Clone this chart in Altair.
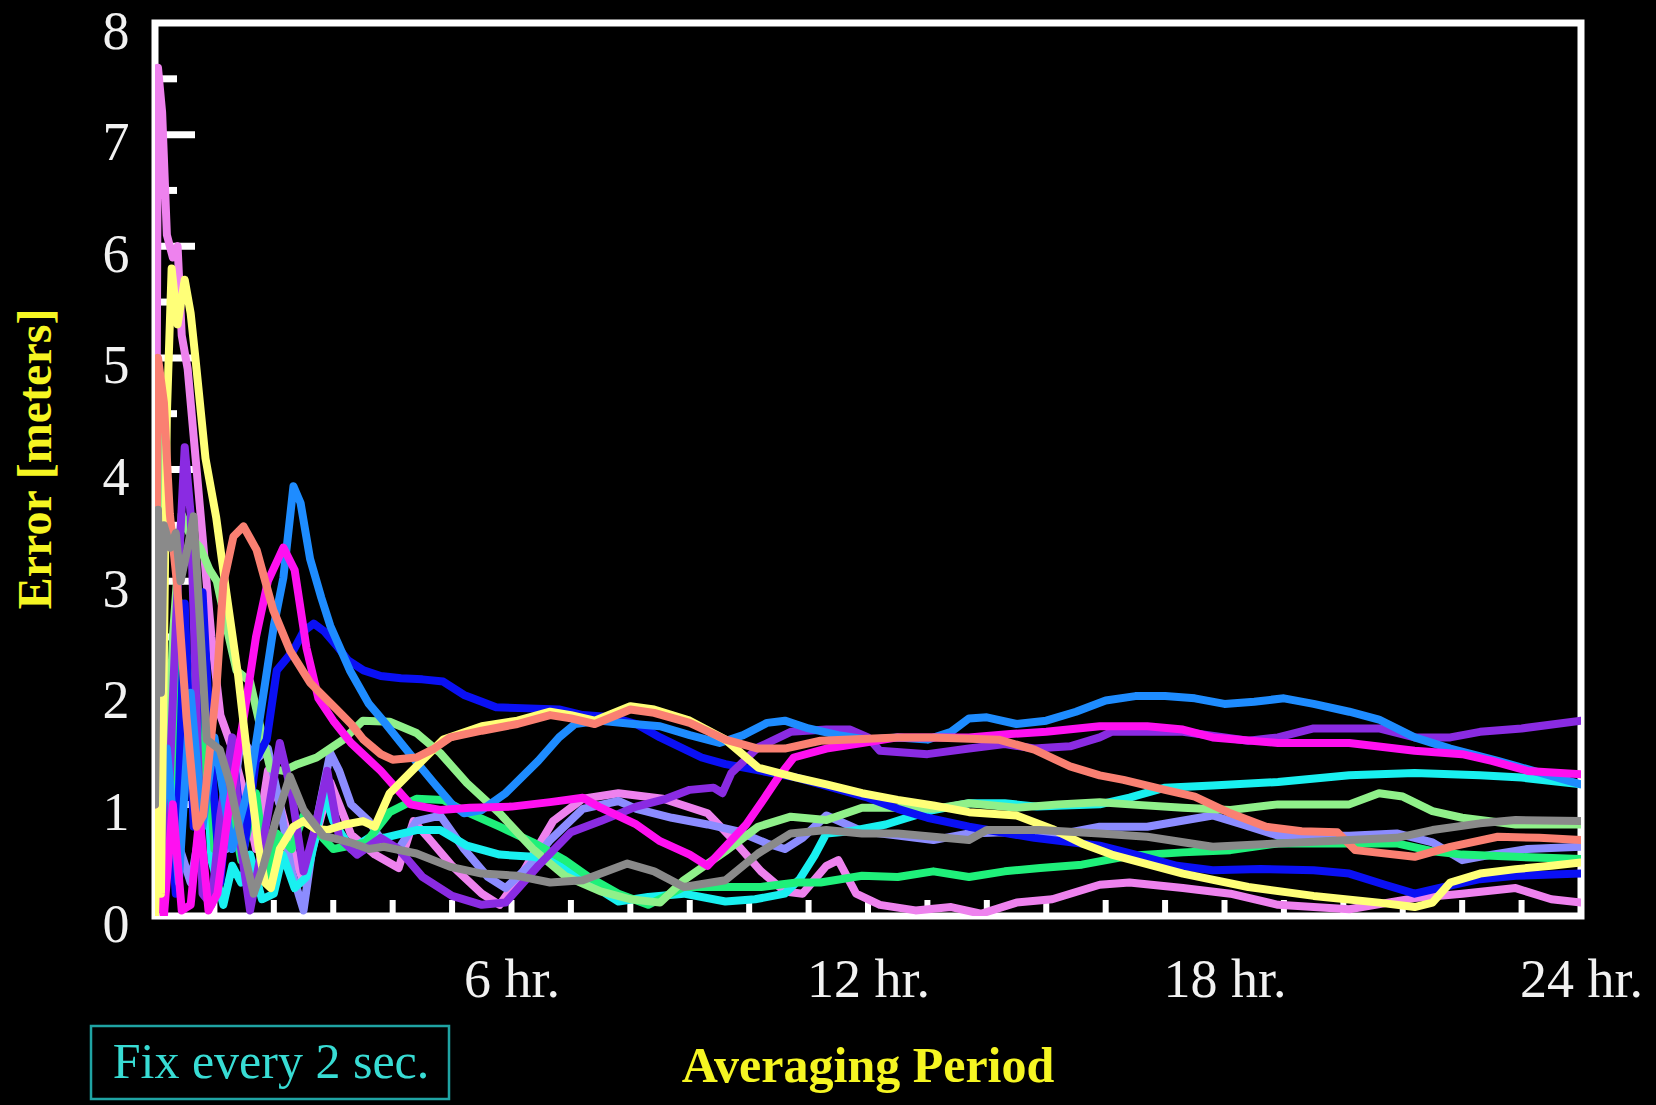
import altair as alt
import pandas as pd

# ---- data: (hour, error in meters) per receiver trace ----
violet = [(0, 1.0), (0.05, 7.6), (0.12, 7.2), (0.2, 6.1), (0.3, 5.9), (0.38, 6.0), (0.45, 5.2), (0.55, 4.9),
          (0.65, 4.3), (0.8, 3.4), (0.95, 2.5), (1.1, 1.8), (1.3, 1.5), (1.5, 1.1), (1.7, 0.6), (1.9, 1.3),
          (2.1, 1.0), (2.3, 0.6), (2.5, 0.3), (2.7, 0.7), (2.95, 1.2), (3.1, 1.0), (3.3, 0.73), (3.7, 0.55),
          (4.1, 0.43), (4.35, 0.85), (4.6, 0.7), (5.0, 0.45), (5.5, 0.2), (5.8, 0.1), (6.2, 0.4), (6.7, 0.85),
          (7.2, 1.05), (7.8, 1.1), (8.55, 1.05), (9.3, 0.92), (9.7, 0.7), (10.2, 0.4), (10.6, 0.22), (10.9, 0.2),
          (11.3, 0.45), (11.5, 0.5), (11.8, 0.2), (12.2, 0.1), (12.8, 0.05), (13.4, 0.08), (13.9, 0.02),
          (14.5, 0.12), (15.1, 0.15), (15.9, 0.28), (16.4, 0.3), (17.3, 0.25), (18.1, 0.2), (18.9, 0.1),
          (20.1, 0.06), (21.2, 0.16), (22.0, 0.2), (22.9, 0.25), (23.5, 0.15), (24, 0.12)]

periwinkle = [(0, 0.3), (0.3, 0.8), (0.6, 0.3), (0.9, 1.2), (1.2, 0.6), (1.45, 1.6), (1.7, 1.4), (1.9, 1.5),
              (2.1, 1.0), (2.3, 0.4), (2.5, 0.05), (2.7, 0.8), (2.95, 1.46), (3.1, 1.3), (3.3, 1.0), (3.6, 0.85),
              (3.85, 0.65), (4.1, 0.6), (4.4, 0.85), (4.8, 0.9), (5.2, 0.6), (5.6, 0.35), (5.9, 0.25), (6.3, 0.45),
              (6.65, 0.68), (7.2, 0.96), (7.8, 1.03), (8.1, 0.96), (8.7, 0.88), (9.3, 0.82), (9.8, 0.76),
              (10.3, 0.65), (10.6, 0.6), (10.9, 0.7), (11.3, 0.9), (11.9, 0.76), (12.5, 0.72), (13.1, 0.68),
              (13.7, 0.74), (14.3, 0.75), (14.9, 0.7), (15.9, 0.8), (16.7, 0.8), (17.8, 0.9), (18.3, 0.82),
              (18.9, 0.72), (20.1, 0.72), (20.9, 0.74), (21.5, 0.66), (22.0, 0.5), (22.5, 0.55), (23.1, 0.6),
              (24, 0.62)]

cyan = [(0, 0.5), (0.15, 1.5), (0.3, 0.8), (0.4, 2.76), (0.5, 2.3), (0.65, 1.0), (0.8, 2.0), (0.95, 0.5),
        (1.15, 0.1), (1.3, 0.45), (1.45, 0.3), (1.6, 0.55), (1.8, 0.15), (2.0, 0.2), (2.15, 0.55), (2.35, 0.25),
        (2.55, 0.35), (2.7, 0.7), (2.85, 1.1), (3.0, 0.85), (3.3, 0.6), (3.6, 0.7), (3.85, 0.7), (4.4, 0.77),
        (4.8, 0.77), (5.25, 0.63), (5.8, 0.55), (6.36, 0.53), (6.65, 0.5), (7.2, 0.33), (7.8, 0.13), (8.3, 0.17),
        (8.9, 0.2), (9.6, 0.13), (10.1, 0.15), (10.6, 0.2), (10.85, 0.33), (11.1, 0.54), (11.3, 0.74),
        (11.7, 0.76), (12.3, 0.82), (12.6, 0.87), (13.1, 0.95), (13.7, 1.01), (14.3, 1.01), (14.85, 0.98),
        (15.9, 1.0), (16.4, 1.06), (17.0, 1.15), (17.8, 1.17), (18.9, 1.2), (20.1, 1.26), (21.2, 1.28),
        (22.3, 1.26), (23.0, 1.24), (24, 1.18)]

springgreen = [(0, 0.2), (0.2, 0.6), (0.3, 1.5), (0.44, 2.8), (0.55, 2.2), (0.7, 1.0), (0.85, 1.8), (1.0, 0.6),
               (1.2, 1.2), (1.45, 0.5), (1.7, 1.1), (1.9, 0.3), (2.05, 0.74), (2.3, 0.6), (2.5, 0.9), (2.7, 0.77),
               (3.0, 0.6), (3.3, 0.63), (3.55, 0.66), (3.95, 0.93), (4.4, 1.05), (4.85, 1.04), (5.25, 0.93),
               (5.8, 0.8), (6.36, 0.66), (6.9, 0.5), (7.3, 0.35), (7.8, 0.2), (8.3, 0.1), (8.9, 0.26), (9.6, 0.26),
               (10.2, 0.26), (10.8, 0.3), (11.2, 0.3), (11.9, 0.36), (12.5, 0.35), (13.1, 0.4), (13.7, 0.35),
               (14.3, 0.4), (14.9, 0.43), (15.6, 0.46), (16.4, 0.54), (17.3, 0.57), (18.1, 0.59), (18.9, 0.65),
               (20.1, 0.65), (20.9, 0.65), (21.5, 0.58), (22.0, 0.55), (22.9, 0.53), (24, 0.51)]

lightgreen = [(0, 0.5), (0.05, 4.6), (0.12, 3.0), (0.2, 1.0), (0.3, 2.5), (0.45, 3.6), (0.6, 3.4), (0.76, 3.3),
              (0.92, 3.1), (1.04, 3.0), (1.2, 2.6), (1.37, 2.2), (1.6, 2.1), (1.77, 1.7), (1.94, 1.32),
              (2.16, 1.3), (2.4, 1.36), (2.72, 1.42), (3.0, 1.52), (3.17, 1.58), (3.5, 1.75), (3.95, 1.74),
              (4.4, 1.64), (4.8, 1.46), (5.25, 1.19), (5.8, 0.92), (6.36, 0.6), (6.9, 0.36), (7.5, 0.22),
              (8.0, 0.15), (8.5, 0.12), (8.9, 0.32), (9.6, 0.58), (10.15, 0.8), (10.7, 0.89), (11.3, 0.86),
              (11.9, 0.97), (12.5, 0.97), (13.1, 0.96), (13.7, 1.01), (14.5, 0.97), (15.2, 1.0), (15.9, 1.02),
              (16.4, 1.0), (17.3, 0.97), (18.1, 0.95), (18.9, 1.0), (20.1, 1.0), (20.6, 1.1), (21.0, 1.07),
              (21.5, 0.94), (22.0, 0.88), (22.9, 0.82), (24, 0.82)]

blue = [(0, 0.3), (0.2, 1.2), (0.35, 0.2), (0.5, 2.8), (0.65, 0.8), (0.8, 2.9), (0.95, 1.4), (1.1, 0.3),
        (1.3, 1.5), (1.5, 0.6), (1.7, 1.4), (1.88, 1.58), (2.05, 2.2), (2.33, 2.38), (2.5, 2.55), (2.67, 2.62),
        (2.85, 2.55), (3.06, 2.42), (3.25, 2.29), (3.51, 2.2), (3.8, 2.15), (4.14, 2.13), (4.5, 2.12),
        (4.85, 2.1), (5.2, 1.98), (5.5, 1.92), (5.74, 1.87), (6.3, 1.86), (6.8, 1.85), (7.2, 1.8), (7.7, 1.78),
        (8.1, 1.72), (8.5, 1.6), (9.2, 1.42), (9.6, 1.36), (10.2, 1.3), (10.8, 1.24), (11.4, 1.15), (12.0, 1.06),
        (12.5, 0.96), (13.0, 0.88), (13.7, 0.8), (14.8, 0.7), (15.9, 0.63), (16.5, 0.55), (17.2, 0.45),
        (17.8, 0.41), (18.6, 0.42), (19.5, 0.41), (20.1, 0.38), (20.7, 0.28), (21.2, 0.2), (21.6, 0.25),
        (22.3, 0.33), (22.9, 0.36), (24, 0.38)]

purple = [(0, 0.1), (0.2, 0.6), (0.35, 2.6), (0.5, 4.2), (0.6, 3.6), (0.7, 1.8), (0.8, 0.2), (0.95, 0.1),
          (1.1, 0.9), (1.3, 1.6), (1.45, 0.6), (1.6, 0.05), (1.8, 0.6), (2.1, 1.55), (2.3, 1.1), (2.5, 0.4),
          (2.7, 0.8), (2.9, 1.3), (3.1, 0.7), (3.4, 0.55), (3.8, 0.7), (4.1, 0.6), (4.5, 0.35), (5.0, 0.18),
          (5.5, 0.1), (5.9, 0.12), (6.45, 0.45), (7.0, 0.75), (7.5, 0.85), (8.1, 0.98), (8.6, 1.05), (9.0, 1.13),
          (9.4, 1.15), (9.55, 1.1), (9.7, 1.28), (10.15, 1.51), (10.7, 1.65), (11.3, 1.67), (11.7, 1.67),
          (12.0, 1.6), (12.2, 1.48), (13.0, 1.45), (13.7, 1.5), (14.3, 1.54), (14.8, 1.5), (15.4, 1.52),
          (15.9, 1.6), (16.1, 1.65), (17.3, 1.65), (18.4, 1.57), (18.9, 1.6), (19.5, 1.68), (20.6, 1.68),
          (21.2, 1.6), (21.8, 1.6), (22.3, 1.65), (23.0, 1.68), (24, 1.75)]

dodgerblue = [(0, 0.05), (0.2, 1.5), (0.4, 0.3), (0.6, 2.0), (0.8, 0.8), (1.0, 1.6), (1.3, 0.6), (1.6, 1.2),
              (1.8, 1.9), (2.0, 2.6), (2.16, 3.03), (2.33, 3.85), (2.45, 3.7), (2.61, 3.2), (2.8, 2.85),
              (2.95, 2.6), (3.28, 2.2), (3.6, 1.9), (3.84, 1.75), (4.14, 1.55), (4.4, 1.38), (4.68, 1.2),
              (5.0, 1.0), (5.2, 0.92), (5.5, 0.95), (5.9, 1.1), (6.45, 1.39), (6.8, 1.6), (7.07, 1.72), (7.5, 1.75),
              (8.05, 1.72), (8.5, 1.7), (9.0, 1.62), (9.5, 1.55), (9.9, 1.62), (10.3, 1.73), (10.6, 1.75),
              (11.0, 1.68), (11.5, 1.62), (12.0, 1.58), (12.5, 1.6), (13.0, 1.58), (13.4, 1.65), (13.7, 1.77),
              (14.0, 1.78), (14.5, 1.72), (15.0, 1.75), (15.5, 1.83), (16.0, 1.93), (16.5, 1.97), (17.0, 1.97),
              (17.5, 1.95), (18.0, 1.9), (18.5, 1.92), (19.0, 1.95), (19.5, 1.9), (20.1, 1.83), (20.6, 1.76),
              (21.2, 1.6), (21.8, 1.5), (22.6, 1.39), (23.2, 1.3), (24, 1.18)]

magenta = [(0, 0.4), (0.15, 0.0), (0.3, 1.0), (0.45, 0.05), (0.6, 0.1), (0.75, 0.9), (0.9, 0.05), (1.05, 0.2),
           (1.25, 1.0), (1.5, 1.8), (1.7, 2.5), (1.9, 3.0), (2.16, 3.3), (2.35, 3.1), (2.55, 2.4), (2.75, 1.95),
           (3.0, 1.75), (3.3, 1.55), (3.6, 1.4), (3.8, 1.3), (4.3, 1.0), (4.8, 0.95), (5.3, 0.97), (6.0, 0.98),
           (6.65, 1.02), (7.2, 1.06), (7.5, 0.97), (8.1, 0.82), (8.5, 0.67), (9.0, 0.55), (9.3, 0.45),
           (9.95, 0.82), (10.25, 1.05), (10.5, 1.25), (10.75, 1.42), (11.3, 1.5), (11.9, 1.55), (12.5, 1.6),
           (13.1, 1.6), (13.7, 1.6), (14.4, 1.63), (15.0, 1.65), (15.9, 1.7), (16.7, 1.7), (17.3, 1.67),
           (17.8, 1.6), (18.9, 1.55), (20.1, 1.55), (21.2, 1.48), (22.0, 1.45), (22.5, 1.39), (23.1, 1.3),
           (24, 1.27)]

yellow = [(0, 0.0), (0.05, 1.0), (0.1, 0.2), (0.2, 4.5), (0.28, 5.8), (0.38, 5.3), (0.5, 5.7), (0.6, 5.4),
          (0.68, 5.0), (0.85, 4.1), (1.03, 3.57), (1.2, 2.9), (1.4, 2.15), (1.56, 1.4), (1.74, 0.63), (1.85, 0.3),
          (1.95, 0.25), (2.1, 0.6), (2.33, 0.8), (2.5, 0.85), (2.7, 0.78), (2.9, 0.77), (3.2, 0.82), (3.5, 0.85),
          (3.7, 0.8), (3.95, 1.1), (4.4, 1.34), (4.85, 1.58), (5.5, 1.7), (6.1, 1.75), (6.65, 1.83), (7.0, 1.8),
          (7.4, 1.75), (8.0, 1.88), (8.4, 1.85), (9.0, 1.75), (9.6, 1.58), (10.15, 1.33), (10.8, 1.24),
          (11.3, 1.18), (11.9, 1.1), (12.5, 1.04), (13.1, 0.99), (13.7, 0.93), (14.5, 0.9), (15.1, 0.78),
          (15.6, 0.65), (16.1, 0.55), (17.3, 0.38), (18.4, 0.26), (19.5, 0.18), (20.6, 0.12), (21.2, 0.08),
          (21.5, 0.12), (21.8, 0.3), (22.3, 0.38), (22.9, 0.42), (23.5, 0.45), (24, 0.48)]

salmon = [(0, 1.0), (0.05, 5.0), (0.15, 4.6), (0.25, 3.6), (0.37, 2.98), (0.53, 1.78), (0.7, 0.8), (0.81, 0.9),
          (1.04, 2.09), (1.15, 2.98), (1.32, 3.4), (1.49, 3.49), (1.71, 3.28), (1.99, 2.74), (2.27, 2.38),
          (2.61, 2.09), (3.06, 1.85), (3.3, 1.72), (3.51, 1.58), (3.8, 1.45), (4.0, 1.4), (4.4, 1.42), (4.7, 1.5),
          (4.97, 1.6), (5.5, 1.66), (6.1, 1.72), (6.65, 1.8), (7.0, 1.77), (7.4, 1.72), (8.0, 1.85), (8.4, 1.82),
          (9.0, 1.73), (9.6, 1.58), (10.15, 1.5), (10.6, 1.5), (11.2, 1.57), (12.5, 1.6), (13.1, 1.6),
          (14.2, 1.58), (14.8, 1.49), (15.4, 1.34), (15.9, 1.26), (16.3, 1.22), (17.0, 1.13), (17.5, 1.07),
          (18.1, 0.92), (18.7, 0.8), (19.3, 0.76), (19.9, 0.75), (20.2, 0.59), (21.2, 0.53), (21.8, 0.62),
          (22.6, 0.71), (23.3, 0.7), (24, 0.68)]

gray = [(0, 1.0), (0.05, 3.64), (0.1, 2.0), (0.15, 3.5), (0.26, 3.3), (0.35, 3.43), (0.43, 3.0), (0.55, 3.3),
        (0.65, 3.58), (0.76, 2.6), (0.87, 1.58), (1.09, 1.49), (1.26, 1.19), (1.49, 0.59), (1.66, 0.2),
        (1.82, 0.44), (2.05, 0.89), (2.27, 1.25), (2.5, 0.95), (2.83, 0.72), (3.28, 0.66), (3.6, 0.6),
        (3.85, 0.62), (4.4, 0.56), (4.97, 0.44), (5.5, 0.38), (6.1, 0.36), (6.65, 0.3), (7.2, 0.32),
        (7.95, 0.47), (8.4, 0.4), (8.9, 0.26), (9.6, 0.32), (10.15, 0.56), (10.7, 0.74), (11.3, 0.77),
        (11.9, 0.74), (12.5, 0.74), (13.1, 0.71), (13.7, 0.68), (14.0, 0.77), (14.9, 0.77), (15.9, 0.74),
        (16.7, 0.71), (17.8, 0.62), (18.9, 0.65), (20.1, 0.68), (20.9, 0.7), (21.5, 0.77), (22.3, 0.83),
        (22.9, 0.86), (24, 0.85)]

# drawing order: bottom -> top
series = [
    ("violet", "#EE82EE", violet),
    ("periwinkle", "#8C8CFF", periwinkle),
    ("cyan", "#19F0F0", cyan),
    ("springgreen", "#1FF07A", springgreen),
    ("lightgreen", "#90F08A", lightgreen),
    ("blue", "#0A10F5", blue),
    ("purple", "#8A2BE2", purple),
    ("dodgerblue", "#1E8CFF", dodgerblue),
    ("magenta", "#FF10F0", magenta),
    ("yellow", "#FFFF78", yellow),
    ("salmon", "#FA8072", salmon),
    ("gray", "#8A8A8A", gray),
]

hour_labels = [6, 12, 18, 24]
y_labels = [0, 1, 2, 3, 4, 5, 6, 7, 8]
x_minor_ticks = list(range(1, 24))
y_major_ticks = [1, 2, 3, 4, 5, 6, 7]
y_minor_ticks = [0.5, 1.5, 2.5, 3.5, 4.5, 5.5, 6.5, 7.5]

rows = []
for name, color, pts in series:
    for i, (h, v) in enumerate(pts):
        rows.append({"series": name, "hr": h, "val": v, "i": i})
df = pd.DataFrame(rows)

W, H = 1426, 893
FONT = "Liberation Serif"
xscale = alt.Scale(domain=[0, 24], nice=False, zero=False)
yscale = alt.Scale(domain=[0, 8], nice=False, zero=True)

x_axis = alt.Axis(values=hour_labels, labelExpr="datum.value + ' hr.'", labelFont=FONT, labelFontSize=54,
                  labelColor="#F2F2F2", labelPadding=37, ticks=False, tickSize=0, domain=False, grid=False,
                  title=None, labelFlush=False, labelOverlap=False, labelBound=False)
y_axis = alt.Axis(values=y_labels, labelFont=FONT, labelFontSize=54, labelColor="#F2F2F2", labelPadding=26,
                  labelOffset=9, ticks=False, tickSize=0, domain=False, grid=False, title=None,
                  labelFlush=False, labelOverlap=False, labelBound=False)

layers = []

# inward tick marks (drawn under the traces)
ytick_df = pd.DataFrame({"v": y_major_ticks})
yminor_df = pd.DataFrame({"v": y_minor_ticks})
xtick_df = pd.DataFrame({"h": x_minor_ticks})
layers.append(alt.Chart(ytick_df).mark_rule(color="white", strokeWidth=7).encode(
    y=alt.Y("v:Q", scale=yscale, axis=y_axis), x=alt.value(0), x2=alt.value(40)))
layers.append(alt.Chart(yminor_df).mark_rule(color="white", strokeWidth=7).encode(
    y=alt.Y("v:Q", scale=yscale, axis=y_axis), x=alt.value(0), x2=alt.value(22)))
layers.append(alt.Chart(xtick_df).mark_rule(color="white", strokeWidth=6).encode(
    x=alt.X("h:Q", scale=xscale, axis=x_axis), y=alt.value(H), y2=alt.value(H - 16)))

for name, color, pts in series:
    layers.append(
        alt.Chart(df).transform_filter(alt.datum.series == name).mark_line(
            color=color, strokeWidth=8, strokeJoin="round", strokeCap="round", clip=True
        ).encode(
            x=alt.X("hr:Q", scale=xscale, axis=x_axis),
            y=alt.Y("val:Q", scale=yscale, axis=y_axis),
            order="i:Q",
        )
    )

one = pd.DataFrame({"t": ["Error [meters]"]})
layers.append(alt.Chart(one).mark_text(font=FONT, fontSize=48, fontWeight="bold", color="#F5F522", angle=270,
                                       align="center", baseline="middle").encode(
    text="t:N", x=alt.value(-118), y=alt.value(436)))
two = pd.DataFrame({"t": ["Averaging Period"]})
layers.append(alt.Chart(two).mark_text(font=FONT, fontSize=50, fontWeight="bold", color="#F5F522",
                                       align="center", baseline="middle").encode(
    text="t:N", x=alt.value(713), y=alt.value(1044)))
box = pd.DataFrame({"t": ["Fix every 2 sec."]})
layers.append(alt.Chart(box).mark_rect(fillOpacity=0, stroke="#1FA3A3", strokeWidth=2.5).encode(
    x=alt.value(-64), x2=alt.value(294), y=alt.value(1003), y2=alt.value(1076)))
layers.append(alt.Chart(box).mark_text(font=FONT, fontSize=50, color="#38DCD4", align="center",
                                       baseline="middle").encode(
    text="t:N", x=alt.value(116), y=alt.value(1040)))

chart = alt.layer(*layers).properties(
    width=W, height=H, autosize="none",
    padding={"left": 155, "top": 23, "right": 75, "bottom": 189},
    background="black",
).configure_view(stroke="white", strokeWidth=7, fill="black")

chart.save("out.html", embed_options={"renderer": "svg", "actions": False})
